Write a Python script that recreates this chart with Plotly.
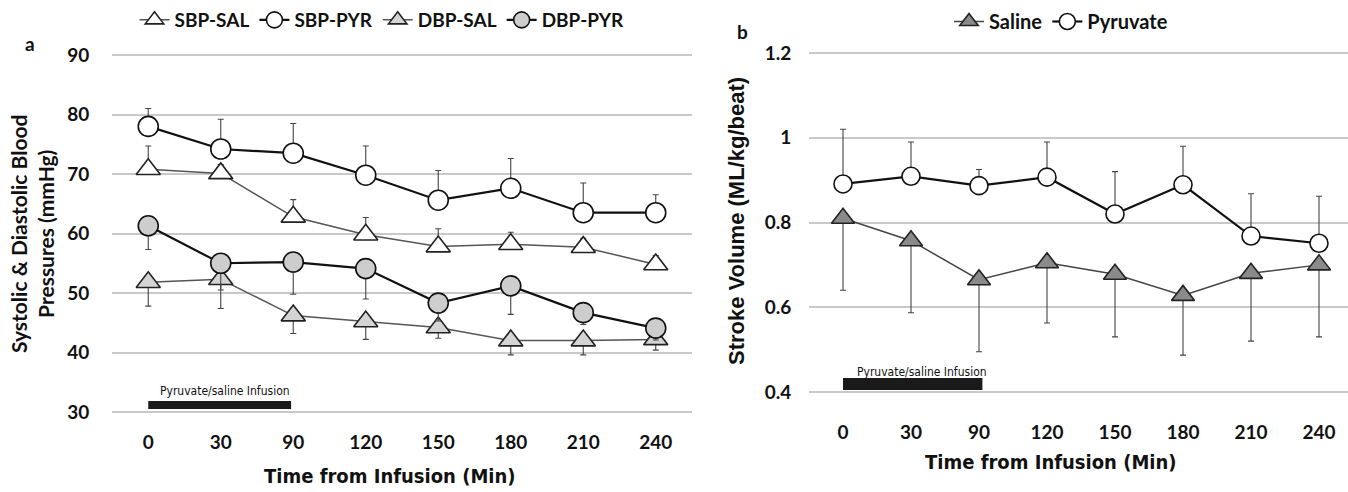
import plotly.graph_objects as go

# ---------------- data ----------------
time_labels = ["0", "30", "90", "120", "150", "180", "210", "240"]

sbp_sal = [70.8, 70.1, 62.8, 59.8, 57.8, 58.2, 57.7, 54.8]
sbp_sal_err = [3.9, 1.5, 2.9, 2.9, 3.0, 2.0, 1.5, 1.5]
sbp_pyr = [78.0, 74.2, 73.5, 69.8, 65.6, 67.6, 63.5, 63.5]
sbp_pyr_err = [3.0, 5.0, 5.0, 4.9, 5.0, 5.0, 5.0, 3.0]
dbp_sal = [51.8, 52.3, 46.2, 45.2, 44.2, 42.0, 42.0, 42.2]
dbp_sal_err = [4.0, 4.9, 3.0, 3.0, 1.8, 2.4, 2.4, 1.8]
dbp_pyr = [61.3, 55.0, 55.2, 54.1, 48.3, 51.2, 46.7, 44.1]
dbp_pyr_err = [4.0, 4.5, 5.4, 5.1, 3.0, 4.8, 2.0, 2.0]

sv_sal = [0.810, 0.757, 0.665, 0.705, 0.678, 0.628, 0.680, 0.700]
sv_sal_err = [0.170, 0.170, 0.170, 0.142, 0.148, 0.141, 0.160, 0.170]
sv_pyr = [0.891, 0.909, 0.887, 0.907, 0.820, 0.889, 0.768, 0.751]
sv_pyr_err = [0.129, 0.081, 0.038, 0.083, 0.100, 0.091, 0.100, 0.111]

zeros = [0] * len(time_labels)

W, H = 1348, 492
PLOT_TOP, PLOT_BOT = 40, 423  # pixel rows of plot area


def px(xr):
    return xr / W


def py(yr):
    return (PLOT_BOT - yr) / (PLOT_BOT - PLOT_TOP)


SANS = "Lato, Open Sans, sans-serif"
ARIAL = "Liberation Sans, Arial, sans-serif"
NARROW = "DejaVu Sans Condensed, Liberation Sans Narrow, sans-serif"
TICK_FONT = dict(family=SANS, size=19, color="#111", weight="bold")

fig = go.Figure()


def add(x, y, err, up, name, sym, fill, edge, lcolor, lwidth, size, xa, ya, leg):
    fig.add_trace(go.Scatter(
        x=x, y=y, name=name, mode="lines+markers",
        line=dict(color=lcolor, width=lwidth),
        marker=dict(symbol=sym, size=size, color=fill, line=dict(color=edge, width=1.6)),
        error_y=dict(type="data", symmetric=False,
                     array=err if up else zeros,
                     arrayminus=zeros if up else err,
                     color="#444", thickness=1.1, width=3),
        xaxis=xa, yaxis=ya, legend=leg,
    ))


# panel a
add(time_labels, sbp_sal, sbp_sal_err, True, "SBP-SAL", "triangle-up", "white", "#222", "#555", 1.5, 21, "x", "y", "legend")
add(time_labels, sbp_pyr, sbp_pyr_err, True, "SBP-PYR", "circle", "white", "#111", "#111", 2.2, 20, "x", "y", "legend")
add(time_labels, dbp_sal, dbp_sal_err, False, "DBP-SAL", "triangle-up", "#d4d4d4", "#222", "#555", 1.5, 21, "x", "y", "legend")
add(time_labels, dbp_pyr, dbp_pyr_err, False, "DBP-PYR", "circle", "#cdcdcd", "#111", "#111", 2.2, 20, "x", "y", "legend")
# panel b
add(time_labels, sv_sal, sv_sal_err, False, "Saline", "triangle-up", "#8a8a8a", "#222", "#444", 1.5, 20, "x2", "y2", "legend2")
add(time_labels, sv_pyr, sv_pyr_err, True, "Pyruvate", "circle", "white", "#111", "#111", 2.2, 18, "x2", "y2", "legend2")

grid = dict(showgrid=True, gridcolor="#c9c9c9", gridwidth=1.5, zeroline=False, showline=False)
noticks = dict(ticks="outside", tickcolor="rgba(0,0,0,0)")

fig.update_layout(
    width=W, height=H,
    margin=dict(l=0, r=0, t=PLOT_TOP, b=H - PLOT_BOT, autoexpand=False),
    paper_bgcolor="white", plot_bgcolor="white",
    font=dict(family=SANS, color="#111"),
    xaxis=dict(domain=[px(112), px(692)], type="category", range=[-0.5, 7.5], tickfont=TICK_FONT,
               showgrid=False, zeroline=False, ticklen=2, anchor="y", **noticks),
    yaxis=dict(domain=[0, 1], range=[30 - (PLOT_BOT - 412) / 5.95, 90 + (55 - PLOT_TOP) / 5.95],
               tickvals=[30, 40, 50, 60, 70, 80, 90],
               tickfont=TICK_FONT, ticklen=18, anchor="x", **noticks, **grid),
    xaxis2=dict(domain=[px(809), 1.0], type="category", range=[-0.5, 7 + (1348 - 1319) / 68],
                tickfont=TICK_FONT, showgrid=False, zeroline=False, ticklen=3, anchor="y2", **noticks),
    yaxis2=dict(domain=[py(412), 1], range=[0.4 - 20 / 423.75, 1.2 + 13 / 423.75],
                tickvals=[0.4, 0.6, 0.8, 1.0, 1.2],
                ticktext=["0.4", "0.6", "0.8", "1", "1.2"],
                tickfont=TICK_FONT, ticklen=13, anchor="x2", **noticks, **grid),
    legend=dict(orientation="h", x=px(382), xanchor="center", y=py(1), yanchor="top",
                font=dict(family=SANS, size=19, color="#111", weight="bold"),
                itemwidth=30, bgcolor="rgba(0,0,0,0)"),
    legend2=dict(orientation="h", x=px(1061), xanchor="center", y=py(2), yanchor="top",
                 font=dict(family=SANS, size=20, color="#111", weight="bold"),
                 itemwidth=30, bgcolor="rgba(0,0,0,0)"),
    showlegend=True,
)

# infusion bars
fig.add_shape(type="rect", xref="x", yref="y", x0=0, x1=1.97, y0=30.5, y1=31.85,
              fillcolor="#1a1a1a", line=dict(width=0))
fig.add_shape(type="rect", xref="x2", yref="y2", x0=0, x1=2.05, y0=0.405, y1=0.433,
              fillcolor="#1a1a1a", line=dict(width=0))

C = dict(xanchor="center", yanchor="middle", showarrow=False)
ann = []
ann.append(dict(text="Pyruvate/saline Infusion", xref="x", yref="y", x=1.06, y=33.5,
                font=dict(family=NARROW, size=12, color="#111"), **C))
ann.append(dict(text="Pyruvate/saline Infusion", xref="x2", yref="y2", x=1.16, y=0.447,
                font=dict(family=NARROW, size=12, color="#111"), **C))
# axis titles
ann.append(dict(text="Systolic &amp; Diastolic Blood<br>Pressures (mmHg)", xref="paper", yref="paper",
                x=px(32), y=py(234), textangle=-90,
                font=dict(family=SANS, size=21, color="#111", weight="bold"), **C))
ann.append(dict(text="Stroke Volume (ML/kg/beat)", xref="paper", yref="paper",
                x=px(736), y=py(221), textangle=-90,
                font=dict(family=ARIAL, size=22, color="#111", weight="bold"), **C))
ann.append(dict(text="Time from Infusion (Min)", xref="paper", yref="paper",
                x=px(390), y=py(476),
                font=dict(family=NARROW, size=20, color="#111", weight="bold"), **C))
ann.append(dict(text="Time from Infusion (Min)", xref="paper", yref="paper",
                x=px(1051), y=py(462),
                font=dict(family=NARROW, size=20, color="#111", weight="bold"), **C))
# panel labels
ann.append(dict(text="a", xref="paper", yref="paper", x=px(30), y=py(43),
                font=dict(family=SANS, size=19, color="#111", weight="bold"), **C))
ann.append(dict(text="b", xref="paper", yref="paper", x=px(742), y=py(32),
                font=dict(family=SANS, size=19, color="#111", weight="bold"), **C))
fig.update_layout(annotations=ann)

fig.write_html("out.html", config={"displayModeBar": False},
               post_script="document.body.style.margin='0px';")
